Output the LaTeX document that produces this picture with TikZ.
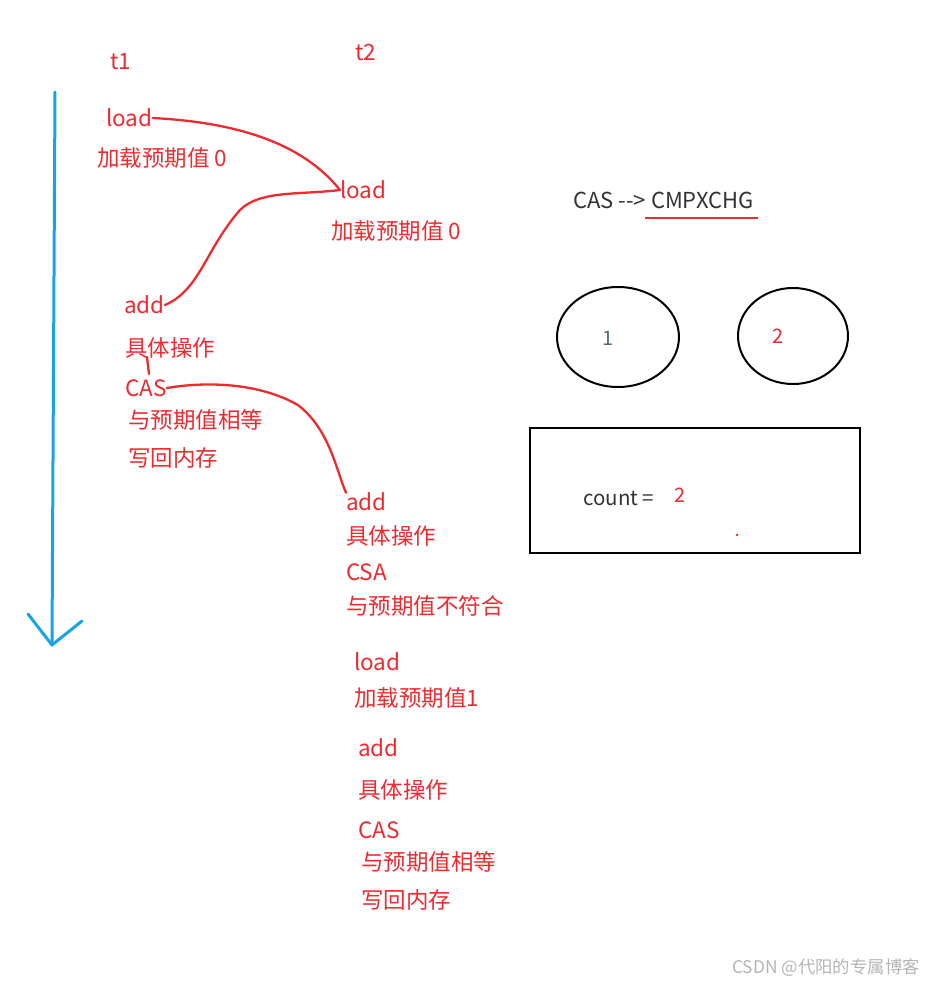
\documentclass[tikz,border=0pt]{standalone}
\usepackage{fontspec}
\setmainfont{Noto Sans CJK SC}
\usetikzlibrary{shapes.geometric}
\definecolor{ink}{HTML}{EE2A2F}
\definecolor{sky}{HTML}{18A3E3}
\definecolor{dark}{HTML}{333333}
\definecolor{numgray}{HTML}{4F6C88}
\definecolor{wm}{HTML}{B5B5B5}
\tikzset{
  lbl/.style={anchor=west, inner sep=0pt, text=ink, font=\fontsize{22.5}{25}\selectfont},
  wire/.style={draw=ink, line width=2.3pt, line cap=round, line join=round},
  blk/.style={text=dark, font=\fontsize{22}{24}\selectfont, inner sep=0pt, anchor=west},
}
\begin{document}
\begin{tikzpicture}[x=1pt,y=-1pt]
\useasboundingbox (0,0) rectangle (925,983);
% timeline arrow
\coordinate (atop) at (55,92);
\coordinate (abot) at (52,645);
\coordinate (al) at (28,614);
\coordinate (ar) at (82,621);
\draw[sky, line width=3pt, line cap=round] (atop) -- (abot);
\draw[sky, line width=3pt, line cap=round, line join=round] (al) -- (abot) -- (ar);
% thread labels
\node[lbl] (t1) at (110,62) {t1};
\node[lbl] (t2) at (355,52) {t2};
% t1 column
\node[lbl] (load1) at (106,118) {load};
\node[lbl] (exp1) at (97,158) {加载预期值 0};
\node[lbl] (add1) at (124,305) {add};
\node[lbl] (op1) at (125,348) {具体操作};
\node[lbl] (cas1) at (125,388) {CAS};
\node[lbl] (eq1) at (128,420) {与预期值相等};
\node[lbl] (wb1) at (128,458) {写回内存};
% t2 column
\node[lbl] (load2) at (340,190) {load};
\node[lbl] (exp2) at (331,231) {加载预期值 0};
\node[lbl] (add2) at (346,502) {add};
\node[lbl] (op2) at (346,536) {具体操作};
\node[lbl] (csa2) at (346,572) {CSA};
\node[lbl] (ne2) at (346,606) {与预期值不符合};
\node[lbl] (load3) at (354,662) {load};
\node[lbl] (exp3) at (354,698) {加载预期值1};
\node[lbl] (add3) at (358,748) {add};
\node[lbl] (op3) at (358,790) {具体操作};
\node[lbl] (cas3) at (358,830) {CAS};
\node[lbl] (eq3) at (361,862) {与预期值相等};
\node[lbl] (wb3) at (361,900) {写回内存};
% red hand-drawn connectors
\draw[wire] (load1.east) .. controls (230,122) and (300,140) .. (load2.west);
\draw[wire] (load2.west) .. controls (300,195) and (260,190) .. (240,210)
   .. controls (205,250) and (200,290) .. (add1.east);
\coordinate (tk1) at (147,357);
\coordinate (tk2) at (149,374);
\draw[wire] (tk1) -- (tk2);
\draw[wire] (cas1.east) .. controls (190,384) and (250,378) .. (298,405)
   .. controls (330,430) and (336,470) .. (add2.north west);
% right side
\node[blk] (cas) at (573,200) {CAS -{}-{}> CMPXCHG};
\coordinate (ul1) at (645,218);
\coordinate (ul2) at (758,218);
\draw[ink, line width=1.2pt] (ul1) -- (ul2);
\node[draw=black, line width=2pt, ellipse, minimum width=122pt, minimum height=100pt] (e1) at (618,337) {};
\node[text=numgray, font=\fontsize{20}{22}\selectfont] (n1) at (608,338) {1};
\node[draw=black, line width=2pt, ellipse, minimum width=110pt, minimum height=96pt] (e2) at (793,336) {};
\node[text=ink, font=\fontsize{20}{22}\selectfont] (n2) at (778,336) {2};
\node[draw=black, line width=2.5pt, minimum width=330pt, minimum height=125pt, inner sep=0pt] (box) at (695,490.5) {};
\node[blk, font=\fontsize{20.5}{22}\selectfont] (cnt) at (583,498) {count =};
\node[text=ink, font=\fontsize{20}{22}\selectfont] (cv) at (680,495) {2};
\fill[ink] (737,535) circle (1.3);
% watermark
\node[anchor=east, text=wm, font=\fontsize{17.4}{19}\selectfont, inner sep=0pt] (wmk) at (920,968) {CSDN @代阳的专属博客};
\end{tikzpicture}
\end{document}
